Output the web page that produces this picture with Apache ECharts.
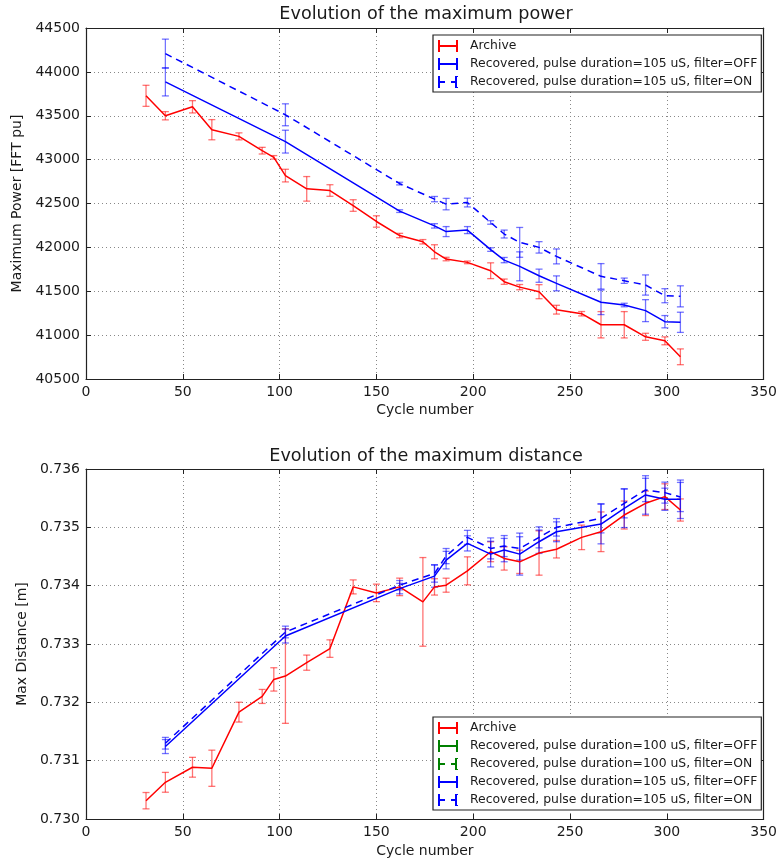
<!DOCTYPE html>
<html>
<head>
<meta charset="utf-8">
<script src="https://cdn.jsdelivr.net/npm/echarts@6/dist/echarts.min.js"></script>
<style>
html,body{margin:0;padding:0;background:#fff;}
#chart{width:780px;height:863px;}
</style>
</head>
<body>
<div id="chart"></div>
<script>
// ---------- DATA ----------
const archiveCycles = [31,41,55,65,79,91,97,103,114,126,138,150,162,174,180,186,197,209,216,224,234,243,256,266,278,289,299,307];
const recoveredCycles = [41,103,162,180,186,197,209,216,224,234,243,266,278,289,299,307];

const powerArchiveValues = [43727,43500,43602,43341,43265,43102,43026,42818,42667,42648,42477,42295,42135,42064,41950,41867,41829,41734,41609,41547,41495,41290,41244,41118,41118,40981,40935,40753];
const powerArchiveErrors = [120,47,70,115,40,38,20,72,140,66,66,65,25,25,80,20,15,90,30,30,80,50,25,150,150,40,45,90];
const power105OffValues = [43886,43205,42413,42245,42180,42197,41975,41855,41784,41677,41590,41374,41343,41279,41153,41146];
const power105OffErrors = [160,130,15,25,57,40,20,30,165,75,85,140,20,125,70,115];
const power105OnValues = [44208,43511,42727,42550,42493,42511,42284,42152,42057,42000,41897,41670,41620,41571,41449,41442];
const power105OnErrors = [165,125,15,30,65,50,20,45,170,65,85,145,30,115,80,120];

const distArchiveValues = [0.730314,0.730629,0.730887,0.730870,0.731832,0.732101,0.732393,0.732450,0.732680,0.732921,0.733979,0.733876,0.733979,0.733722,0.733979,0.734008,0.734254,0.734581,0.734467,0.734409,0.734560,0.734625,0.734828,0.734924,0.735211,0.735412,0.735526,0.735297];
const distArchiveErrors = [0.00014,0.00017,0.00017,0.00031,0.00017,0.00012,0.00020,0.00081,0.00013,0.00015,0.00012,0.00015,0.00015,0.00076,0.00014,0.00012,0.00024,0.00017,0.00020,0.00020,0.00038,0.00015,0.00021,0.00034,0.00024,0.00021,0.00022,0.00019];
const dist105OffValues = [0.731242,0.733137,0.733950,0.734163,0.734438,0.734725,0.734541,0.734610,0.734541,0.734753,0.734924,0.735057,0.735326,0.735555,0.735481,0.735481];
const dist105OffErrors = [0.00012,0.00012,0.00009,0.00019,0.00015,0.00013,0.00022,0.00020,0.00036,0.00020,0.00017,0.00034,0.00033,0.00033,0.00019,0.00033];
const dist105OnValues = [0.731299,0.733206,0.734008,0.734210,0.734507,0.734828,0.734639,0.734679,0.734639,0.734828,0.735000,0.735155,0.735412,0.735641,0.735595,0.735520];
const dist105OnErrors = [0.00010,0.00010,0.00008,0.00015,0.00013,0.00012,0.00018,0.00018,0.00020,0.00018,0.00015,0.00025,0.00025,0.00020,0.00018,0.00025];
// The 100 uS series appear only in the legend (no visible points in the reference)
const dist100OffValues = [];
const dist100OnValues = [];

const xTicks = {min: 0, max: 350, interval: 50};
const powerTicks = {min: 40500, max: 44500, interval: 500};
const distTicks = {min: 0.730, max: 0.736, interval: 0.001};

const NAME_ARCH = 'Archive';
const NAME_100_OFF = 'Recovered, pulse duration=100 uS, filter=OFF';
const NAME_100_ON = 'Recovered, pulse duration=100 uS, filter=ON';
const NAME_105_OFF = 'Recovered, pulse duration=105 uS, filter=OFF';
const NAME_105_ON = 'Recovered, pulse duration=105 uS, filter=ON';

// ---------- STYLE ----------
const FONT = 'DejaVu Sans';
const TXT = '#1a1a1a';
const RED = '#ff0000', BLUE = '#0000ff', GREEN = '#008000';
const ICON_SOLID = 'path://M0,0 L2,0 L2,5 L18,5 L18,0 L20,0 L20,12 L18,12 L18,7 L2,7 L2,12 L0,12 Z';
const ICON_DASH = 'path://M0,0 L2,0 L2,5 L7,5 L7,7 L2,7 L2,12 L0,12 Z M13,5 L17,5 L17,0 L20,0 L20,1 L19,1 L19,11 L20,11 L20,12 L17,12 L17,7 L13,7 Z';

function zip3(xs, ys, es) { return xs.map((x, i) => [x, ys[i], es ? es[i] : 0]).slice(0, ys.length); }

function errRender(params, api) {
  const x = api.value(0), y = api.value(1), e = api.value(2);
  const top = api.coord([x, y + e]);
  const bot = api.coord([x, y - e]);
  const c = api.visual('color');
  const cap = 3.5;
  const st = {stroke: c, lineWidth: 1.3, opacity: 0.55};
  return {type: 'group', children: [
    {type: 'line', shape: {x1: top[0], y1: top[1], x2: bot[0], y2: bot[1]}, style: st},
    {type: 'line', shape: {x1: top[0] - cap, y1: top[1], x2: top[0] + cap, y2: top[1]}, style: st},
    {type: 'line', shape: {x1: bot[0] - cap, y1: bot[1], x2: bot[0] + cap, y2: bot[1]}, style: st}
  ]};
}

function lineSeries(name, gi, xs, ys, color, dashed) {
  return {
    type: 'line', name: name + ' (line)', xAxisIndex: gi * 2, yAxisIndex: gi * 2,
    data: xs.slice(0, ys.length).map((x, i) => [x, ys[i]]),
    showSymbol: false, symbol: 'none', silent: true, animation: false,
    lineStyle: {color: color, width: 1.5, type: dashed ? [7, 5] : 'solid'},
    itemStyle: {color: color}, z: 3
  };
}
function errSeries(name, gi, xs, ys, es, color) {
  return {
    type: 'custom', name: name, xAxisIndex: gi * 2, yAxisIndex: gi * 2,
    data: zip3(xs, ys, es), renderItem: errRender, clip: true,
    itemStyle: {color: color}, animation: false, silent: true, z: 2,
    encode: {x: 0, y: 1}
  };
}

const grids = [
  {left: 86, right: 13, top: 28, height: 351},
  {left: 86, right: 13, top: 469, height: 350}
];

function xAxes(gi) {
  return [
    {type: 'value', gridIndex: gi, position: 'bottom', ...xTicks,
     name: 'Cycle number', nameLocation: 'middle', nameGap: gi === 0 ? 24 : 25,
     nameTextStyle: {fontFamily: FONT, fontSize: 14, color: TXT},
     axisLine: {show: true, onZero: false, lineStyle: {color: '#222', width: 1.2}},
     axisTick: {show: true, inside: true, length: 5, lineStyle: {color: '#222'}},
     axisLabel: {fontFamily: FONT, fontSize: 14, color: TXT, margin: 6},
     splitLine: {show: true, lineStyle: {color: '#888', type: [1, 3], width: 1}}},
    {type: 'value', gridIndex: gi, position: 'top', ...xTicks,
     axisLine: {show: true, onZero: false, lineStyle: {color: '#222', width: 1.2}},
     axisTick: {show: true, inside: true, length: 5, lineStyle: {color: '#222'}},
     axisLabel: {show: false}, splitLine: {show: false}}
  ];
}
function yAxes(gi, ticks, name, fmt) {
  return [
    {type: 'value', gridIndex: gi, position: 'left', ...ticks,
     name: name, nameLocation: 'middle', nameGap: 56, nameRotate: 90,
     nameTextStyle: {fontFamily: FONT, fontSize: 14, color: TXT},
     axisLine: {show: true, onZero: false, lineStyle: {color: '#222', width: 1.2}},
     axisTick: {show: true, inside: true, length: 5, lineStyle: {color: '#222'}},
     axisLabel: {fontFamily: FONT, fontSize: 14, color: TXT, margin: 6, formatter: fmt},
     splitLine: {show: true, lineStyle: {color: '#888', type: [1, 3], width: 1}}},
    {type: 'value', gridIndex: gi, position: 'right', ...ticks,
     axisLine: {show: true, onZero: false, lineStyle: {color: '#222', width: 1.2}},
     axisTick: {show: true, inside: true, length: 5, lineStyle: {color: '#222'}},
     axisLabel: {show: false}, splitLine: {show: false}}
  ];
}

const legendBase = {
  orient: 'vertical', left: 433, itemWidth: 22, itemHeight: 12, itemGap: 6,
  padding: [5, 4, 4, 5], backgroundColor: '#fff', borderColor: '#222', borderWidth: 1.2,
  borderRadius: 0, selectedMode: false,
  textStyle: {fontFamily: FONT, fontSize: 12.4, color: TXT, padding: [0, 0, 0, 6]}
};

const option = {
  backgroundColor: '#fff',
  animation: false,
  title: [
    {text: 'Evolution of the maximum power', left: 426, top: 5, textAlign: 'center', padding: 0,
     textStyle: {fontFamily: FONT, fontSize: 17.6, fontWeight: 'normal', color: TXT}},
    {text: 'Evolution of the maximum distance', left: 426, top: 447, textAlign: 'center', padding: 0,
     textStyle: {fontFamily: FONT, fontSize: 17.6, fontWeight: 'normal', color: TXT}}
  ],
  grid: grids,
  xAxis: [...xAxes(0), ...xAxes(1)],
  yAxis: [...yAxes(0, powerTicks, 'Maximum Power [FFT pu]', v => String(v)),
          ...yAxes(1, distTicks, 'Max Distance [m]', v => Number(v).toFixed(3))],
  legend: [
    Object.assign({}, legendBase, {top: 35, data: [
      {name: NAME_ARCH, icon: ICON_SOLID},
      {name: NAME_105_OFF, icon: ICON_SOLID},
      {name: NAME_105_ON, icon: ICON_DASH}
    ]}),
    Object.assign({}, legendBase, {top: 717, data: [
      {name: NAME_ARCH, icon: ICON_SOLID},
      {name: NAME_100_OFF, icon: ICON_SOLID},
      {name: NAME_100_ON, icon: ICON_DASH},
      {name: NAME_105_OFF, icon: ICON_SOLID},
      {name: NAME_105_ON, icon: ICON_DASH}
    ]})
  ],
  series: [
    // top chart
    errSeries(NAME_ARCH, 0, archiveCycles, powerArchiveValues, powerArchiveErrors, RED),
    errSeries(NAME_105_OFF, 0, recoveredCycles, power105OffValues, power105OffErrors, BLUE),
    errSeries(NAME_105_ON, 0, recoveredCycles, power105OnValues, power105OnErrors, BLUE),
    lineSeries('P ' + NAME_ARCH, 0, archiveCycles, powerArchiveValues, RED, false),
    lineSeries('P ' + NAME_105_OFF, 0, recoveredCycles, power105OffValues, BLUE, false),
    lineSeries('P ' + NAME_105_ON, 0, recoveredCycles, power105OnValues, BLUE, true),
    // bottom chart
    errSeries(NAME_ARCH, 1, archiveCycles, distArchiveValues, distArchiveErrors, RED),
    errSeries(NAME_100_OFF, 1, recoveredCycles, dist100OffValues, null, GREEN),
    errSeries(NAME_100_ON, 1, recoveredCycles, dist100OnValues, null, GREEN),
    errSeries(NAME_105_OFF, 1, recoveredCycles, dist105OffValues, dist105OffErrors, BLUE),
    errSeries(NAME_105_ON, 1, recoveredCycles, dist105OnValues, dist105OnErrors, BLUE),
    lineSeries('D ' + NAME_ARCH, 1, archiveCycles, distArchiveValues, RED, false),
    lineSeries('D ' + NAME_105_OFF, 1, recoveredCycles, dist105OffValues, BLUE, false),
    lineSeries('D ' + NAME_105_ON, 1, recoveredCycles, dist105OnValues, BLUE, true)
  ]
};

const chart = echarts.init(document.getElementById('chart'), null, {renderer: 'canvas'});
chart.setOption(option);
</script>
</body>
</html>
